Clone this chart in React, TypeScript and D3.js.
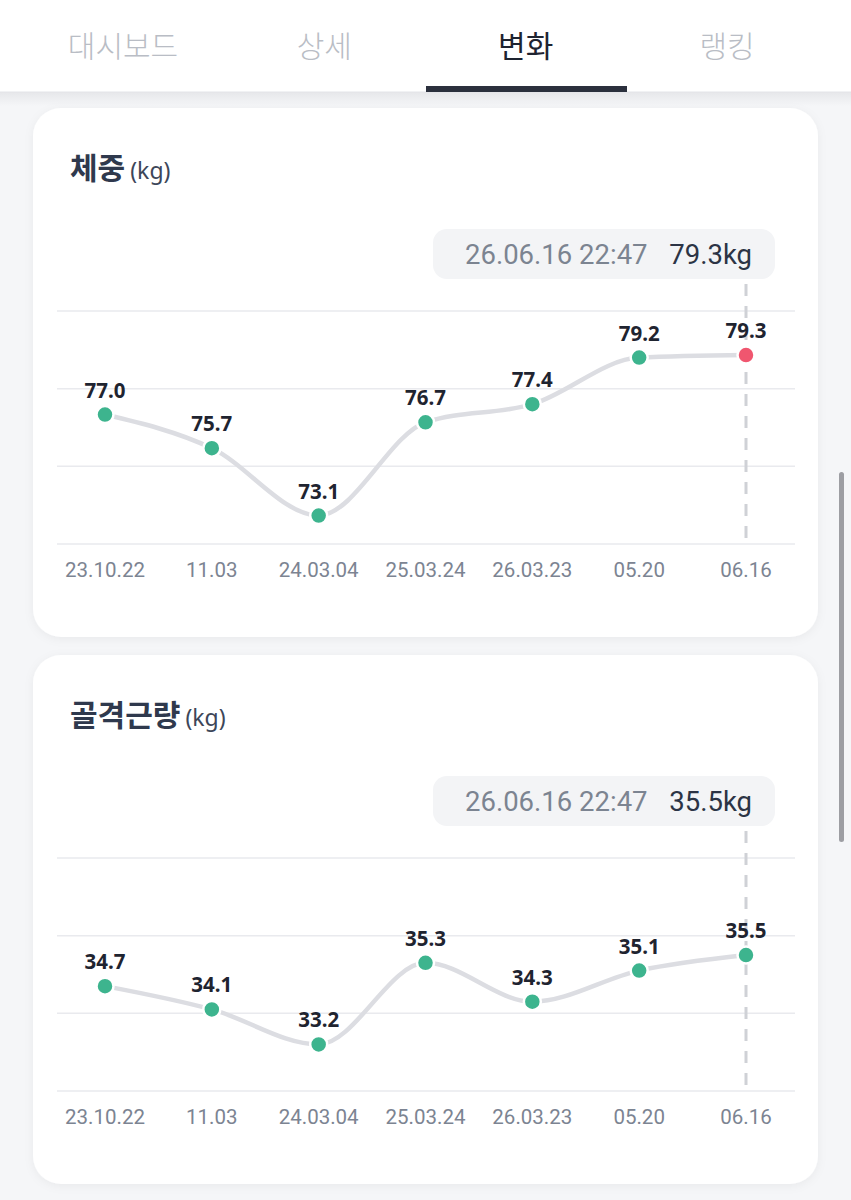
import React from "react";
import * as d3 from "d3";

const tabs = ["대시보드", "상세", "변화", "랭킹"];
const activeTab = "변화";
const dates = ["23.10.22", "11.03", "24.03.04", "25.03.24", "26.03.23", "05.20", "06.16"];
const weightValues = [77.0, 75.7, 73.1, 76.7, 77.4, 79.2, 79.3];
const muscleValues = [34.7, 34.1, 33.2, 35.3, 34.3, 35.1, 35.5];
const weightTicks = [72, 75, 78, 81];
const muscleTicks = [32, 34, 36, 38];
const tooltipDate = "26.06.16 22:47";
const unit = "kg";

const W = 851;
const H = 1200;
const NUM_FONT = "Roboto, 'Liberation Sans', sans-serif";
const KR_FONT = "'Noto Sans CJK KR', 'Noto Sans', sans-serif";

interface ChartProps {
  top: number;
  title: string;
  values: number[];
  ticks: number[];
  highlightRed: boolean;
}

function ChartCard({ top, title, values, ticks, highlightRed }: ChartProps) {
  const x = d3.scalePoint<string>().domain(dates).range([105, 746]);
  const y = d3
    .scaleLinear()
    .domain([d3.min(ticks)!, d3.max(ticks)!])
    .range([top + 436, top + 203]);
  const line = d3
    .line<number>()
    .x((_, i) => x(dates[i])!)
    .y((d) => y(d))
    .curve(d3.curveMonotoneX);
  const last = values.length - 1;
  const lastX = x(dates[last])!;
  return (
    <g>
      <rect
        x={33}
        y={top}
        width={785}
        height={529}
        rx={28}
        fill="#ffffff"
        filter="url(#cardShadow)"
      />
      <text x={70} y={top + 71} fontFamily={KR_FONT} fill="#2f394d">
        <tspan fontSize={30} fontWeight={700}>{title}</tspan>
        <tspan fontSize={23} fontWeight={400} dx={5} fill="#3d4659" fontFamily={"'Noto Sans', sans-serif"}>
          ({unit})
        </tspan>
      </text>
      {/* tooltip */}
      <rect x={433} y={top + 121} width={342} height={50} rx={14} fill="#f3f4f6" />
      <text x={465} y={top + 156} fontFamily={NUM_FONT} fontSize={27.5} fill="#7c8491">
        {tooltipDate}
      </text>
      <text x={752} y={top + 156} fontFamily={NUM_FONT} fontSize={27.5} fill="#2c3445" textAnchor="end">
        {values[last].toFixed(1)}
        {unit}
      </text>
      {/* grid */}
      {ticks.map((t) => (
        <line key={t} x1={57} x2={795} y1={y(t)} y2={y(t)} stroke="#e9eaee" strokeWidth={1.5} />
      ))}
      {/* dashed line */}
      <line
        x1={lastX}
        x2={lastX}
        y1={top + 176}
        y2={top + 436}
        stroke="#cfd1d6"
        strokeWidth={3}
        strokeDasharray="12 10"
      />
      {/* x labels */}
      {dates.map((d) => (
        <text
          key={d}
          x={x(d)!}
          y={top + 469}
          textAnchor="middle"
          fontFamily={NUM_FONT}
          fontSize={20.5}
          fill="#7c8492"
        >
          {d}
        </text>
      ))}
      <path d={line(values) || ""} fill="none" stroke="#dcdde2" strokeWidth={4.5} strokeLinecap="round" />
      {values.map((v, i) => (
        <g key={i}>
          <circle
            cx={x(dates[i])!}
            cy={y(v)}
            r={8.5}
            fill={highlightRed && i === last ? "#f0566f" : "#3db48e"}
            stroke="#ffffff"
            strokeWidth={2.5}
          />
          <text
            x={x(dates[i])!}
            y={y(v) - 17}
            textAnchor="middle"
            fontFamily={"'Noto Sans', sans-serif"}
            fontWeight={700}
            fontSize={20.5}
            fill="#1f2430"
          >
            {v.toFixed(1)}
          </text>
        </g>
      ))}
    </g>
  );
}

export default function App() {
  const tabX = d3.scalePoint<string>().domain(tabs).range([123, 727]);
  return (
    <div style={{ position: "fixed", left: 0, top: 0, width: W, height: H }}>
      <svg width={W} height={H} viewBox={`0 0 ${W} ${H}`} style={{ display: "block" }}>
        <defs>
          <filter id="cardShadow" x="-10%" y="-10%" width="120%" height="120%">
            <feDropShadow dx={0} dy={2} stdDeviation={5} floodColor="#000" floodOpacity={0.05} />
          </filter>
          <linearGradient id="tabShadow" x1="0" y1="0" x2="0" y2="1">
            <stop offset="0" stopColor="#e6e7ea" />
            <stop offset="1" stopColor="#f5f6f8" />
          </linearGradient>
        </defs>
        <rect x={0} y={0} width={W} height={H} fill="#f5f6f8" />
        <rect x={0} y={92} width={W} height={14} fill="url(#tabShadow)" />
        <rect x={0} y={0} width={W} height={92} fill="#ffffff" />
        <line x1={0} x2={W} y1={92} y2={92} stroke="#e3e4e8" strokeWidth={1} />
        {tabs.map((t) => (
          <text
            key={t}
            x={tabX(t)!}
            y={57}
            textAnchor="middle"
            fontFamily={KR_FONT}
            fontSize={30}
            fontWeight={t === activeTab ? 400 : 300}
            fill={t === activeTab ? "#1e2330" : "#b9bdc5"}
          >
            {t}
          </text>
        ))}
        <rect x={426} y={86} width={201} height={6} fill="#2b303d" />
        <ChartCard top={108} title="체중" values={weightValues} ticks={weightTicks} highlightRed={true} />
        <ChartCard top={655} title="골격근량" values={muscleValues} ticks={muscleTicks} highlightRed={false} />
        {/* scrollbar */}
        <rect x={839} y={472} width={5} height={370} rx={2.5} fill="#9d9ea3" />
      </svg>
    </div>
  );
}
